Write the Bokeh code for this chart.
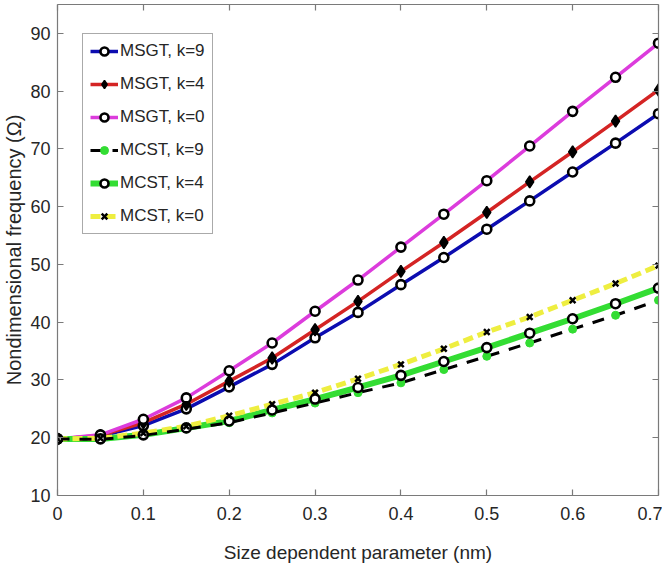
from bokeh.plotting import figure
from bokeh.models import LinearAxis, Range1d, Legend, LegendItem, FixedTicker, CustomLabelingPolicy
from bokeh.embed import file_html
from bokeh.resources import INLINE

x = [0.0, 0.05, 0.1, 0.15, 0.2, 0.25, 0.3, 0.35, 0.4, 0.45, 0.5, 0.55, 0.6, 0.65, 0.7]
msgt_k9 = [19.8, 20.3, 22.1, 25.0, 28.8, 32.7, 37.3, 41.7, 46.5, 51.2, 56.1, 61.0, 66.0, 71.0, 76.1]
msgt_k4 = [19.8, 20.4, 22.6, 25.8, 29.8, 33.8, 38.7, 43.6, 48.8, 53.8, 59.0, 64.3, 69.5, 74.8, 80.2]
msgt_k0 = [19.8, 20.5, 23.2, 26.9, 31.6, 36.4, 41.9, 47.3, 53.0, 58.7, 64.5, 70.5, 76.5, 82.4, 88.3]
mcst_k9 = [19.8, 19.7, 20.4, 21.5, 22.6, 24.3, 26.0, 27.8, 29.5, 31.8, 34.1, 36.4, 38.8, 41.2, 43.8]
mcst_k4 = [19.8, 19.8, 20.5, 21.7, 22.9, 24.8, 26.7, 28.7, 30.8, 33.2, 35.6, 38.1, 40.6, 43.2, 45.9]
mcst_k0 = [19.8, 19.9, 20.8, 22.0, 23.8, 25.8, 27.8, 30.2, 32.7, 35.4, 38.3, 40.9, 43.8, 46.7, 49.8]

labels = ["MSGT, k=9", "MSGT, k=4", "MSGT, k=0", "MCST, k=9", "MCST, k=4", "MCST, k=0"]
x_ticks = [0, 0.1, 0.2, 0.3, 0.4, 0.5, 0.6, 0.7]
y_ticks = [10, 20, 30, 40, 50, 60, 70, 80, 90]

FONT = "Liberation Sans"
TXT = "#262626"
AX = "#7a7a7a"

p = figure(frame_width=601, frame_height=491, output_backend="svg", toolbar_location=None,
           x_range=Range1d(0, 0.7), y_range=Range1d(10, 95),
           min_border_left=48, min_border_right=2, min_border_top=1, min_border_bottom=66,
           x_axis_label="Size dependent parameter (nm)",
           y_axis_label="Nondimensional frequency (\u03a9)")
p.grid.visible = False
p.outline_line_color = None
p.background_fill_color = "white"
p.border_fill_color = "white"

hide_labels = CustomLabelingPolicy(code="""
for (const i of Array.from(indices)) { indices.unset(i) }
return indices
""")

def style_axis(ax, ticks, labels_on=True):
    ax.ticker = FixedTicker(ticks=ticks)
    ax.major_tick_in = 6
    ax.major_tick_out = 0
    ax.minor_tick_in = 0
    ax.minor_tick_out = 0
    ax.axis_line_color = AX
    ax.axis_line_width = 1.2
    ax.major_tick_line_color = AX
    ax.major_tick_line_width = 1.2
    ax.major_label_text_font = FONT
    ax.major_label_text_color = TXT
    ax.major_label_text_font_size = "18px"
    ax.axis_label_text_font = FONT
    ax.axis_label_text_font_style = "normal"
    ax.axis_label_text_color = TXT
    if not labels_on:
        ax.major_label_policy = hide_labels
        ax.major_label_standoff = 0
        ax.major_label_text_font_size = "1px"

style_axis(p.xaxis[0], x_ticks)
style_axis(p.yaxis[0], y_ticks)
p.xaxis[0].major_label_standoff = 11
p.xaxis[0].axis_label_standoff = 19
p.xaxis[0].axis_label_text_font_size = "19px"
p.yaxis[0].major_label_standoff = 7
p.yaxis[0].axis_label_standoff = 2
p.yaxis[0].axis_label_text_font_size = "20px"

top = LinearAxis()
style_axis(top, x_ticks, labels_on=False)
p.add_layout(top, "above")
right = LinearAxis()
style_axis(right, y_ticks, labels_on=False)
p.add_layout(right, "right")

BLUE = "#0c0cb0"
RED = "#d42424"
MAG = "#dc3cdc"
GREEN = "#33dd33"
YELLOW = "#eeee40"

l1 = p.line(x, msgt_k9, line_color=BLUE, line_width=3.5)
l2 = p.line(x, msgt_k4, line_color=RED, line_width=3.5)
l3 = p.line(x, msgt_k0, line_color=MAG, line_width=3.5)
l5 = p.line(x, mcst_k4, line_color=GREEN, line_width=6)
l6 = p.line(x, mcst_k0, line_color=YELLOW, line_width=5, line_dash="10 5")
l4 = p.line(x, mcst_k9, line_color="black", line_width=3, line_dash="12 10")

m1 = p.scatter(x, msgt_k9, marker="circle", size=9, fill_color="white", line_color="black", line_width=2.6)
m2 = p.scatter(x, msgt_k4, marker="diamond", size=12, fill_color="black", line_color="black", line_width=1.5)
m3 = p.scatter(x, msgt_k0, marker="circle", size=9, fill_color="white", line_color="black", line_width=2.6)
m4 = p.scatter(x, mcst_k9, marker="circle", size=8, fill_color=GREEN, line_color=GREEN, line_width=1)
m5 = p.scatter(x, mcst_k4, marker="circle", size=9, fill_color="white", line_color="black", line_width=2.6)
m6 = p.scatter(x, mcst_k0, marker="x", size=8, line_color="black", line_width=2.5)

items = [
    LegendItem(label=labels[0], renderers=[l1, m1]),
    LegendItem(label=labels[1], renderers=[l2, m2]),
    LegendItem(label=labels[2], renderers=[l3, m3]),
    LegendItem(label=labels[3], renderers=[l4, m4]),
    LegendItem(label=labels[4], renderers=[l5, m5]),
    LegendItem(label=labels[5], renderers=[l6, m6]),
]
legend = Legend(items=items, location=(25, 261))
legend.label_text_font = FONT
legend.label_text_font_size = "17px"
legend.label_text_color = TXT
legend.glyph_width = 28
legend.glyph_height = 20
legend.label_standoff = 2
legend.spacing = 13
legend.padding = 7
legend.margin = 0
legend.border_line_color = "#555555"
legend.border_line_width = 1.2
legend.background_fill_color = "white"
legend.background_fill_alpha = 1
p.add_layout(legend)

open("out.html", "w").write(file_html(p, INLINE))
